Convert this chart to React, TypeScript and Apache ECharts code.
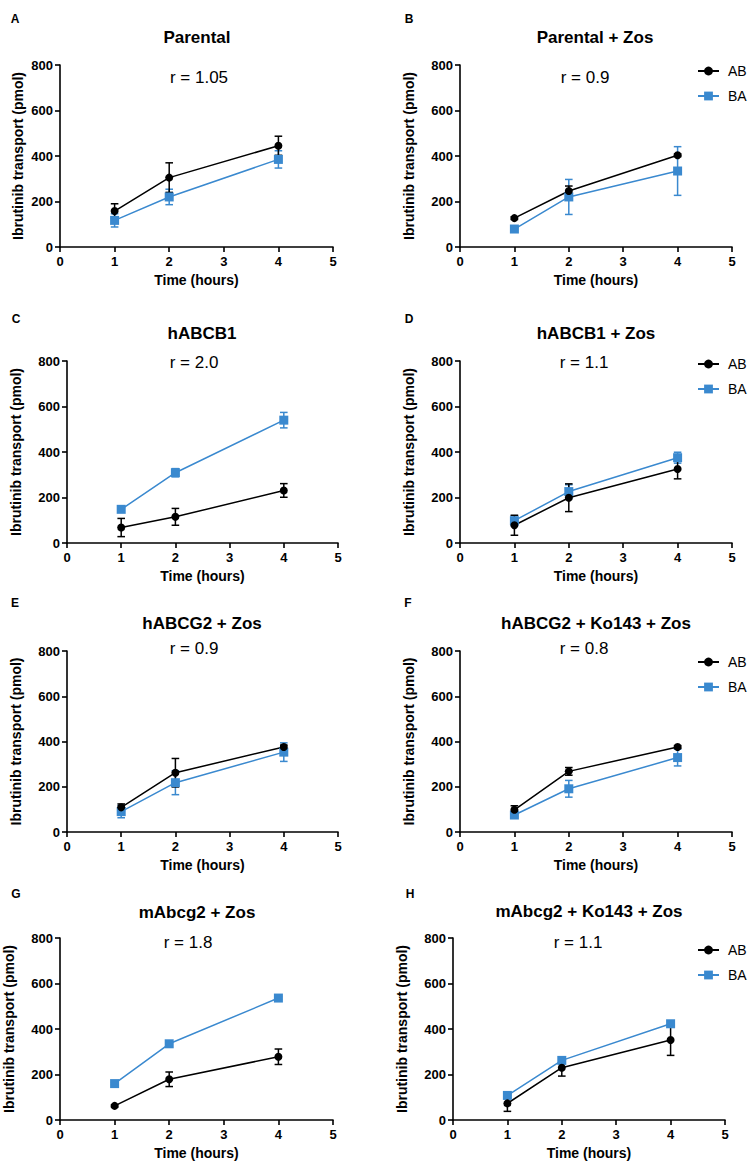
import React, { useEffect, useRef } from "react";
import * as echarts from "echarts";

// ---------- data ----------
const timePoints = [1, 2, 4];
const xTicks = [0, 1, 2, 3, 4, 5];
const yTicks = [0, 200, 400, 600, 800];
const seriesNames = ["AB", "BA"];
const panelLetters = ["A", "B", "C", "D", "E", "F", "G", "H"];
const panelTitles = [
  "Parental",
  "Parental + Zos",
  "hABCB1",
  "hABCB1 + Zos",
  "hABCG2 + Zos",
  "hABCG2 + Ko143 + Zos",
  "mAbcg2 + Zos",
  "mAbcg2 + Ko143 + Zos",
];
const ratioLabels = ["r = 1.05", "r = 0.9", "r = 2.0", "r = 1.1", "r = 0.9", "r = 0.8", "r = 1.8", "r = 1.1"];
// AB (apical -> basolateral) means and SD per panel, at 1, 2, 4 h
const abMean = [
  [158, 305, 445],
  [127, 246, 403],
  [68, 115, 231],
  [78, 199, 325],
  [109, 262, 376],
  [98, 268, 376],
  [62, 179, 278],
  [73, 230, 352],
];
const abErr = [
  [32, 65, 42],
  [6, 22, 6],
  [40, 37, 30],
  [44, 61, 43],
  [15, 63, 8],
  [18, 17, 6],
  [5, 32, 34],
  [35, 37, 68],
];
// BA (basolateral -> apical)
const baMean = [
  [117, 220, 385],
  [79, 220, 334],
  [148, 309, 540],
  [98, 226, 375],
  [90, 218, 353],
  [75, 191, 329],
  [160, 335, 536],
  [108, 262, 423],
];
const baErr = [
  [29, 34, 38],
  [6, 77, 107],
  [6, 18, 34],
  [22, 30, 24],
  [27, 53, 41],
  [8, 37, 37],
  [5, 6, 6],
  [8, 10, 12],
];

// ---------- layout / style ----------
const FONT = '"Liberation Sans", Arial, Helvetica, sans-serif';
const BLACK = "#000000";
const BLUE = "#3a89cf";

const layout = [
  { gl: 60, gt: 65, gw: 273, gh: 182, letter: [15, 19], title: [197, 37], r: [199, 77], yGap: 35, legend: null },
  { gl: 460, gt: 65, gw: 272, gh: 182, letter: [409, 19], title: [595, 37], r: [585, 77], yGap: 44, legend: 71 },
  { gl: 67, gt: 361, gw: 271, gh: 182, letter: [16, 319], title: [202, 333], r: [194, 362], yGap: 44, legend: null },
  { gl: 460, gt: 361, gw: 272, gh: 182, letter: [409, 319], title: [596, 333], r: [584, 362], yGap: 44, legend: 364 },
  { gl: 67, gt: 651, gw: 271, gh: 181, letter: [15, 603], title: [202, 623], r: [194, 648], yGap: 44, legend: null },
  { gl: 460, gt: 651, gw: 272, gh: 181, letter: [408, 603], title: [596, 623], r: [584, 648], yGap: 44, legend: 662 },
  { gl: 60, gt: 938, gw: 273, gh: 182, letter: [16, 894], title: [197, 912], r: [188, 942], yGap: 44, legend: null },
  { gl: 453, gt: 938, gw: 272, gh: 182, letter: [410, 894], title: [589, 911], r: [578, 942], yGap: 44, legend: 950 },
];

function errorBarSeries(name: string, gi: number, means: number[], errs: number[], color: string) {
  return {
    type: "custom",
    name,
    xAxisIndex: gi,
    yAxisIndex: gi,
    silent: true,
    z: 2,
    encode: { x: 0, y: [1, 2] },
    data: timePoints.map((t, j) => [t, means[j] - errs[j], means[j] + errs[j]]),
    renderItem: (params: any, api: any) => {
      const x = api.value(0);
      const lo = api.coord([x, api.value(1)]);
      const hi = api.coord([x, api.value(2)]);
      const half = 3.8;
      const st = { stroke: color, lineWidth: 1.5, fill: "none" };
      return {
        type: "group",
        children: [
          { type: "line", shape: { x1: hi[0], y1: hi[1], x2: lo[0], y2: lo[1] }, style: st },
          { type: "line", shape: { x1: hi[0] - half, y1: hi[1], x2: hi[0] + half, y2: hi[1] }, style: st },
          { type: "line", shape: { x1: lo[0] - half, y1: lo[1], x2: lo[0] + half, y2: lo[1] }, style: st },
        ],
      };
    },
  };
}

function lineSeries(name: string, gi: number, means: number[], color: string, symbol: string, size: number) {
  return {
    type: "line",
    name,
    xAxisIndex: gi,
    yAxisIndex: gi,
    symbol,
    symbolSize: size,
    showSymbol: true,
    z: 3,
    itemStyle: { color, borderWidth: 0 },
    lineStyle: { color, width: 1.5 },
    emphasis: { disabled: true },
    data: timePoints.map((t, j) => [t, means[j]]),
  };
}

function buildOption() {
  const grid: any[] = [];
  const xAxis: any[] = [];
  const yAxis: any[] = [];
  const series: any[] = [];
  const legend: any[] = [];
  const graphic: any[] = [];

  const axisLineStyle = { color: BLACK, width: 1.6 };
  const labelStyle = { color: BLACK, fontWeight: "bold", fontSize: 13, fontFamily: FONT };
  const nameStyle = { color: BLACK, fontWeight: "bold", fontSize: 14, fontFamily: FONT };

  layout.forEach((L, i) => {
    grid.push({ left: L.gl, top: L.gt, width: L.gw, height: L.gh, containLabel: false });
    xAxis.push({
      gridIndex: i,
      type: "value",
      min: xTicks[0],
      max: xTicks[xTicks.length - 1],
      interval: 1,
      axisLine: { show: true, onZero: false, lineStyle: axisLineStyle },
      axisTick: { show: true, length: 5, lineStyle: axisLineStyle },
      axisLabel: { ...labelStyle, margin: 8 },
      splitLine: { show: false },
      name: "Time (hours)",
      nameLocation: "middle",
      nameGap: 26,
      nameTextStyle: nameStyle,
    });
    yAxis.push({
      gridIndex: i,
      type: "value",
      min: yTicks[0],
      max: yTicks[yTicks.length - 1],
      interval: 200,
      axisLine: { show: true, onZero: false, lineStyle: axisLineStyle },
      axisTick: { show: true, length: 5, lineStyle: axisLineStyle },
      axisLabel: { ...labelStyle, margin: 7 },
      splitLine: { show: false },
      name: "Ibrutinib transport (pmol)",
      nameLocation: "middle",
      nameGap: L.yGap,
      nameTextStyle: nameStyle,
    });

    series.push(errorBarSeries("BA err " + i, i, baMean[i], baErr[i], BLUE));
    series.push(lineSeries(seriesNames[1], i, baMean[i], BLUE, "rect", 9));
    series.push(errorBarSeries("AB err " + i, i, abMean[i], abErr[i], BLACK));
    series.push(lineSeries(seriesNames[0], i, abMean[i], BLACK, "circle", 8));

    if (L.legend !== null) {
      legend.push({
        data: seriesNames,
        orient: "vertical",
        left: 697,
        top: (L.legend as number) - 7,
        padding: 0,
        itemWidth: 21,
        itemHeight: 11,
        itemGap: 11,
        selectedMode: false,
        textStyle: { color: BLACK, fontSize: 14, fontFamily: FONT, padding: [0, 0, 0, 4] },
      });
    }

    graphic.push({
      type: "text",
      x: L.letter[0],
      y: L.letter[1],
      style: {
        text: panelLetters[i],
        fill: BLACK,
        fontSize: 12,
        fontWeight: "bold",
        fontFamily: FONT,
        align: "center",
        verticalAlign: "middle",
        textAlign: "center",
        textVerticalAlign: "middle",
      },
    });
    graphic.push({
      type: "text",
      x: L.title[0],
      y: L.title[1],
      style: {
        text: panelTitles[i],
        fill: BLACK,
        fontSize: 17,
        fontWeight: "bold",
        fontFamily: FONT,
        align: "center",
        verticalAlign: "middle",
        textAlign: "center",
        textVerticalAlign: "middle",
      },
    });
    graphic.push({
      type: "text",
      x: L.r[0],
      y: L.r[1],
      style: {
        text: ratioLabels[i],
        fill: BLACK,
        fontSize: 17,
        fontWeight: "normal",
        fontFamily: FONT,
        align: "center",
        verticalAlign: "middle",
        textAlign: "center",
        textVerticalAlign: "middle",
      },
    });
  });

  return {
    animation: false,
    backgroundColor: "#ffffff",
    textStyle: { fontFamily: FONT },
    grid,
    xAxis,
    yAxis,
    legend,
    series,
    graphic,
  };
}

export default function App() {
  const ref = useRef<HTMLDivElement>(null);
  useEffect(() => {
    if (!ref.current) return;
    const chart = echarts.init(ref.current, undefined, { renderer: "svg" });
    chart.setOption(buildOption() as any);
    return () => chart.dispose();
  }, []);
  return (
    <div
      ref={ref}
      style={{ position: "absolute", left: 0, top: 0, width: 749, height: 1165, background: "#fff" }}
    />
  );
}
